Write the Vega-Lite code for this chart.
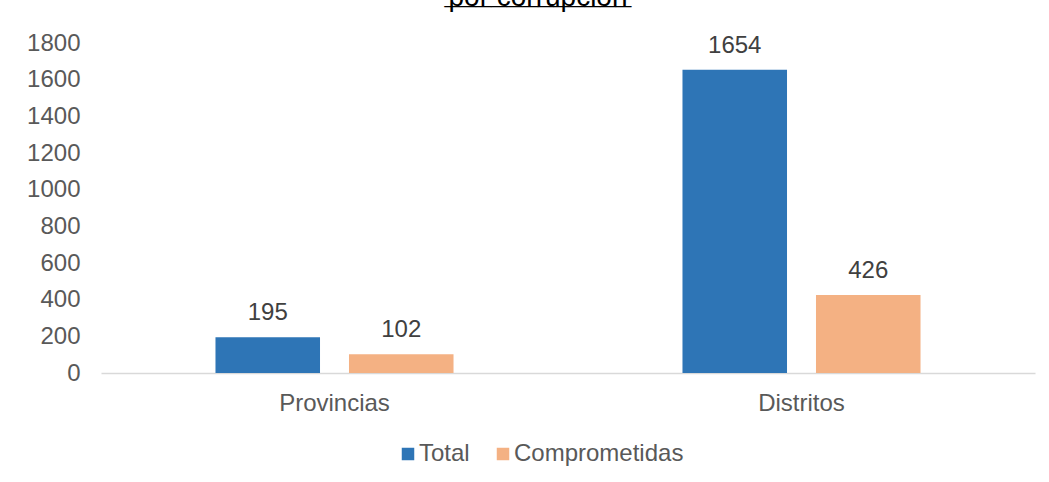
{
  "$schema": "https://vega.github.io/schema/vega-lite/v6.json",
  "width": 934,
  "height": 330,
  "autosize": {"type": "none"},
  "padding": {"left": 101, "top": 43, "right": 14, "bottom": 109},
  "background": "white",
  "config": {
    "view": {"stroke": null},
    "font": "Liberation Sans"
  },
  "title": {
    "text": "por corrupción",
    "subtitle": "____________",
    "font": "Liberation Sans",
    "fontSize": 28,
    "fontWeight": "normal",
    "color": "#000000",
    "subtitleFont": "Liberation Sans",
    "subtitleFontSize": 28,
    "subtitleFontWeight": "bold",
    "subtitleColor": "#000000",
    "subtitlePadding": -30,
    "anchor": "middle",
    "dx": -30,
    "offset": 0,
    "dy": -17
  },
  "data": {
    "values": [
      {"ambito": "Provincias", "serie": "Total", "valor": 195},
      {"ambito": "Provincias", "serie": "Comprometidas", "valor": 102},
      {"ambito": "Distritos", "serie": "Total", "valor": 1654},
      {"ambito": "Distritos", "serie": "Comprometidas", "valor": 426}
    ]
  },
  "encoding": {
    "x": {
      "field": "ambito",
      "type": "nominal",
      "sort": ["Provincias", "Distritos"],
      "scale": {"paddingInner": 0, "paddingOuter": 0},
      "axis": {
        "title": null,
        "labelAngle": 0,
        "labelFontSize": 24,
        "labelColor": "#595959",
        "labelFont": "Liberation Sans",
        "domainColor": "#d9d9d9",
        "domainWidth": 1.5,
        "ticks": false,
        "labelPadding": 18
      }
    },
    "xOffset": {
      "field": "serie",
      "type": "nominal",
      "sort": ["Total", "Comprometidas"],
      "scale": {"paddingInner": 0.217, "paddingOuter": 0.8575}
    },
    "y": {
      "field": "valor",
      "type": "quantitative",
      "scale": {"domain": [0, 1800], "nice": false},
      "axis": {
        "title": null,
        "values": [0, 200, 400, 600, 800, 1000, 1200, 1400, 1600, 1800],
        "format": "d",
        "grid": false,
        "domain": false,
        "ticks": false,
        "labelFontSize": 24,
        "labelColor": "#595959",
        "labelFont": "Liberation Sans",
        "labelPadding": 21
      }
    }
  },
  "layer": [
    {
      "mark": {"type": "bar"},
      "encoding": {
        "color": {
          "field": "serie",
          "type": "nominal",
          "sort": ["Total", "Comprometidas"],
          "scale": {"domain": ["Total", "Comprometidas"], "range": ["#2E75B6", "#F4B183"]},
          "legend": {
            "title": null,
            "orient": "none",
            "direction": "horizontal",
            "legendX": 295,
            "legendY": 399,
            "symbolType": "square",
            "symbolSize": 156,
            "symbolStrokeWidth": 0,
            "labelFontSize": 24,
            "labelColor": "#595959",
            "labelFont": "Liberation Sans",
            "labelOffset": -1,
            "labelLimit": 400,
            "columnPadding": 21
          }
        }
      }
    },
    {
      "mark": {
        "type": "text",
        "baseline": "alphabetic",
        "dy": -17,
        "fontSize": 24,
        "color": "#404040",
        "font": "Liberation Sans"
      },
      "encoding": {
        "text": {"field": "valor", "type": "quantitative"}
      }
    }
  ]
}
